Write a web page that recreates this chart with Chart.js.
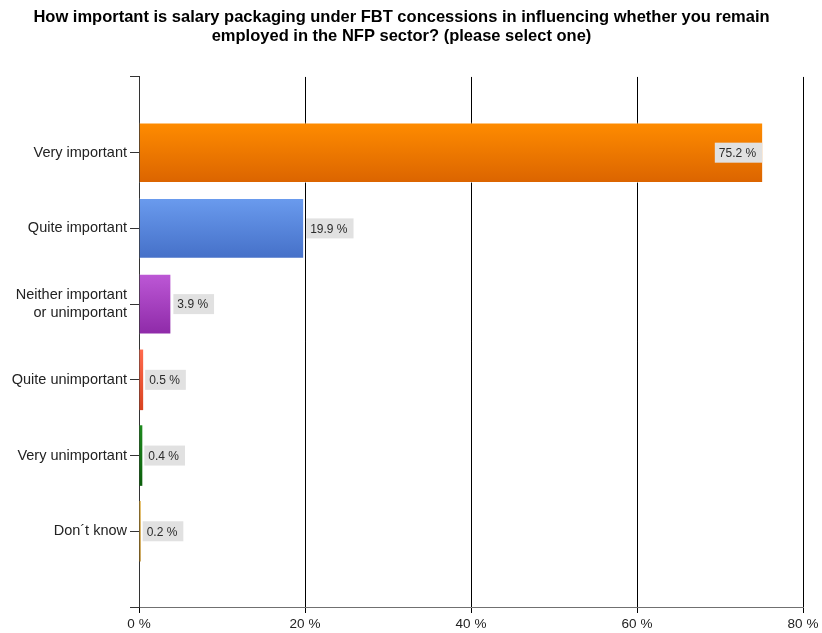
<!DOCTYPE html>
<html lang="en">
<head>
    <meta charset="UTF-8">
    <title>Salary packaging importance</title>
    <style>
        body {
            margin: 0;
            background-color: #ffffff;
        }
        .chart-container {
            width: 822px;
            height: 633px;
        }
    </style>
</head>
<body>
    <div class="chart-container">
        <canvas id="fbtChart"></canvas>
    </div>

    <script src="https://cdn.jsdelivr.net/npm/chart.js"></script>

    <script>
        // empty labels at both ends give the padded category spacing of the original
        const categories = ['', 'Very important', 'Quite important', ['Neither important', 'or unimportant'],
            'Quite unimportant', 'Very unimportant', 'Don\u00b4t know', ''];
        const percentages = [null, 75.2, 19.9, 3.9, 0.5, 0.4, 0.2, null];
        const xTicks = [0, 20, 40, 60, 80];

        const topColors = ['#000', '#ff8c00', '#6a9bee', '#bd58d6', '#ff6a4d', '#1f8a1f', '#dba42a', '#000'];
        const bottomColors = ['#000', '#db6400', '#4570c8', '#8e2aa8', '#d8421f', '#0b5e0b', '#b07a10', '#000'];

        const FONT = "'Liberation Sans', Arial, sans-serif";

        function barGradient(context) {
            const chart = context.chart;
            const i = context.dataIndex;
            const yScale = chart.scales.y;
            if (!chart.chartArea || !yScale || i === undefined) return topColors[i] || '#888';
            const center = yScale.getPixelForValue(i);
            const half = (yScale.getPixelForValue(1) - yScale.getPixelForValue(0)) * 0.4;
            const g = chart.ctx.createLinearGradient(0, center - half, 0, center + half);
            g.addColorStop(0, topColors[i]);
            g.addColorStop(1, bottomColors[i]);
            return g;
        }

        // grey boxed value labels next to (or inside) the bar ends
        const valueLabels = {
            id: 'valueLabels',
            afterDatasetsDraw(chart) {
                const ctx = chart.ctx;
                const meta = chart.getDatasetMeta(0);
                ctx.save();
                ctx.font = '12px ' + FONT;
                ctx.textBaseline = 'middle';
                meta.data.forEach((bar, i) => {
                    const v = percentages[i];
                    if (v === null) return;
                    const text = v.toFixed(1) + ' %';
                    const w = ctx.measureText(text).width + 10;
                    const h = 20;
                    let left = bar.x + 2;
                    if (left + w > chart.chartArea.right) left = bar.x - w - 1;
                    ctx.fillStyle = '#e1e1e1';
                    ctx.fillRect(left, bar.y - h / 2, w, h);
                    ctx.fillStyle = '#2b2b2b';
                    ctx.fillText(text, left + 4, bar.y + 1);
                });
                ctx.restore();
            }
        };

        new Chart(document.getElementById('fbtChart'), {
            type: 'bar',
            data: {
                labels: categories,
                datasets: [{
                    data: percentages,
                    backgroundColor: barGradient,
                    borderColor: 'rgba(255,255,255,0.55)',
                    borderWidth: (c) => (percentages[c.dataIndex] > 2 ? 1 : 0),
                    barPercentage: 0.8,
                    categoryPercentage: 1
                }]
            },
            options: {
                indexAxis: 'y',
                responsive: true,
                maintainAspectRatio: false,
                animation: false,
                layout: { padding: { top: 0, right: 19, bottom: 0, left: 0 } },
                plugins: {
                    legend: { display: false },
                    tooltip: { enabled: false },
                    title: {
                        display: true,
                        text: ['How important is salary packaging under FBT concessions in influencing whether you remain',
                            'employed in the NFP sector? (please select one)'],
                        color: '#000',
                        font: { family: FONT, size: 16.5, weight: 'bold', lineHeight: 1.15 },
                        padding: { top: 8, bottom: 31 }
                    }
                },
                scales: {
                    x: {
                        min: 0,
                        max: 80,
                        afterBuildTicks: (scale) => { scale.ticks = xTicks.map(v => ({ value: v })); },
                        afterFit: (scale) => { scale.height = 26; },
                        ticks: {
                            callback: (v) => v + ' %',
                            color: '#222',
                            font: { family: FONT, size: 13.5 },
                            padding: 3,
                            maxRotation: 0
                        },
                        grid: {
                            color: '#000',
                            lineWidth: 1,
                            tickLength: 6
                        },
                        border: { color: '#707070', width: 1 }
                    },
                    y: {
                        offset: false,
                        afterFit: (scale) => { scale.width = 139; },
                        ticks: {
                            color: '#222',
                            font: { family: FONT, size: 14.5, lineHeight: 1.2 },
                            padding: 3,
                            autoSkip: false
                        },
                        grid: {
                            offset: false,
                            drawOnChartArea: false,
                            color: '#333',
                            tickLength: 9
                        },
                        border: { color: '#333', width: 1 }
                    }
                }
            },
            plugins: [valueLabels]
        });
    </script>
</body>
</html>
